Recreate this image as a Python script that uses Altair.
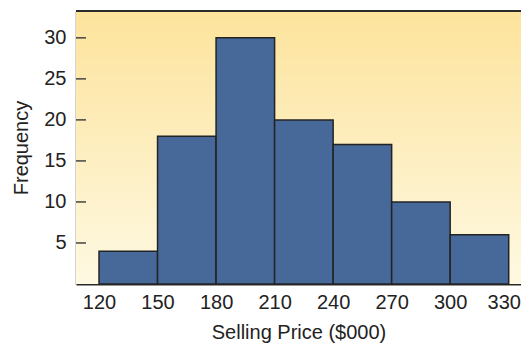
import altair as alt
import pandas as pd

bin_starts = [120, 150, 180, 210, 240, 270, 300]
bin_ends = [150, 180, 210, 240, 270, 300, 330]
frequencies = [4, 18, 30, 20, 17, 10, 6]
x_ticks = [120, 150, 180, 210, 240, 270, 300, 330]
y_ticks = [5, 10, 15, 20, 25, 30]

W, H = 445, 273
FONT = "Liberation Sans"

bars_df = pd.DataFrame({"start": bin_starts, "end": bin_ends, "freq": frequencies})
ticks_df = pd.DataFrame({"v": y_ticks})

xscale = alt.Scale(domain=[108.2, 336.3], nice=False, zero=False)
yscale = alt.Scale(domain=[0, 33.27], nice=False)

grad = alt.LinearGradient(
    gradient="linear",
    stops=[alt.GradientStop(color="#FDE39C", offset=0),
           alt.GradientStop(color="#FEF9E2", offset=1)],
    x1=0, x2=0, y1=0, y2=1,
)

bg = alt.Chart(pd.DataFrame({"a": [0]})).mark_rect(color=grad).encode(
    x=alt.value(0), x2=alt.value(W), y=alt.value(0), y2=alt.value(H)
)

bars = alt.Chart(bars_df).mark_rect(
    color="#46699A", stroke="#232323", strokeWidth=1.5
).encode(
    x=alt.X("start:Q", scale=xscale,
            axis=alt.Axis(values=x_ticks, title="Selling Price ($000)", ticks=False,
                          grid=False, labelPadding=8, titlePadding=10,
                          labelOffset=alt.ConditionalAxisNumber(
                              condition={"test": "datum.value == 330", "value": -5},
                              value=0),
                          domainColor="#2a2a2a", domainWidth=2)),
    x2="end:Q",
    y=alt.Y("freq:Q", scale=yscale,
            axis=alt.Axis(values=y_ticks, title="Frequency", ticks=False, grid=False,
                          labelPadding=10, titlePadding=12,
                          domainColor="#555555", domainWidth=1.5)),
)

tick_marks = alt.Chart(ticks_df).mark_rule(color="#444444", strokeWidth=1.5).encode(
    y=alt.Y("v:Q", scale=yscale), x=alt.value(0), x2=alt.value(10)
)

top_line = alt.Chart(pd.DataFrame({"a": [0]})).mark_rule(color="#2a2a2a", strokeWidth=2).encode(
    x=alt.value(0), x2=alt.value(W), y=alt.value(0)
)

chart = alt.layer(bg, bars, tick_marks, top_line).properties(
    width=W, height=H,
    autosize=alt.AutoSizeParams(type="none"),
    padding={"left": 68, "top": 3, "right": 0, "bottom": 63},
).configure_view(stroke=None).configure_axis(
    labelFont=FONT, titleFont=FONT, labelFontSize=20, titleFontSize=20,
    labelColor="#222222", titleColor="#222222", titleFontWeight="normal",
)

chart.save("out.html", embed_options={"renderer": "svg", "actions": False})
